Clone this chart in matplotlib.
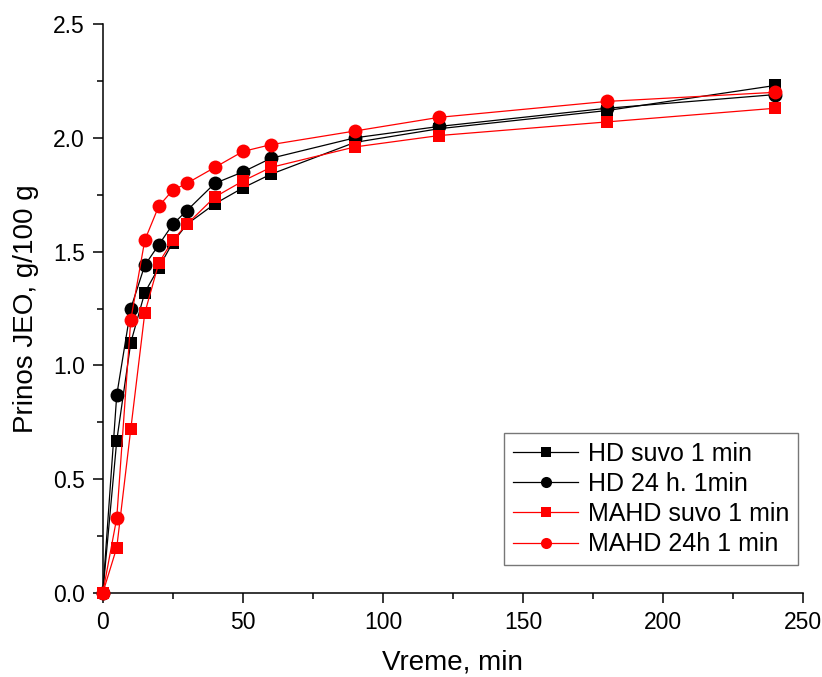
import matplotlib.pyplot as plt
from matplotlib.ticker import MultipleLocator

plt.rcParams['font.family'] = ['Liberation Sans', 'DejaVu Sans']

# extraction time, min
time_min = [0, 5, 10, 15, 20, 25, 30, 40, 50, 60, 90, 120, 180, 240]

# essential oil yield, g/100 g
hd_suvo = [0, 0.67, 1.10, 1.32, 1.43, 1.54, 1.62, 1.71, 1.78, 1.84, 1.98, 2.04, 2.12, 2.23]
hd_24h = [0, 0.87, 1.25, 1.44, 1.53, 1.62, 1.68, 1.80, 1.85, 1.91, 2.00, 2.05, 2.13, 2.19]
mahd_suvo = [0, 0.20, 0.72, 1.23, 1.45, 1.55, 1.62, 1.74, 1.81, 1.87, 1.96, 2.01, 2.07, 2.13]
mahd_24h = [0, 0.33, 1.20, 1.55, 1.70, 1.77, 1.80, 1.87, 1.94, 1.97, 2.03, 2.09, 2.16, 2.20]

labels = ['HD suvo 1 min', 'HD 24 h. 1min', 'MAHD suvo 1 min', 'MAHD 24h 1 min']

fig = plt.figure(figsize=(8.22, 6.77), dpi=100)
ax = fig.add_axes([0.125, 0.124, 0.852, 0.8405])

series = [
    (hd_suvo, 'black', 's', 9),
    (hd_24h, 'black', 'o', 10),
    (mahd_suvo, 'red', 's', 9),
    (mahd_24h, 'red', 'o', 10),
]
for (vals, col, mk, ms), lab in zip(series, labels):
    ax.plot(time_min, vals, color=col, marker=mk, markersize=ms, lw=0.9,
            markeredgewidth=0, label=lab, clip_on=False, zorder=3)

ax.set_xlim(0, 250)
ax.set_ylim(0, 2.5)
ax.xaxis.set_major_locator(MultipleLocator(50))
ax.xaxis.set_minor_locator(MultipleLocator(25))
ax.yaxis.set_major_locator(MultipleLocator(0.5))
ax.yaxis.set_minor_locator(MultipleLocator(0.25))
ax.yaxis.set_major_formatter(plt.FormatStrFormatter('%.1f'))

for side in ['top', 'right']:
    ax.spines[side].set_visible(False)
for side in ['left', 'bottom']:
    ax.spines[side].set_linewidth(1.1)

ax.tick_params(which='major', direction='out', length=7, width=1.1,
               labelsize=16.5, pad=6)
ax.tick_params(which='minor', direction='out', length=4, width=1.1)

ax.set_xlabel('Vreme, min', fontsize=20)
ax.set_ylabel('Prinos JEO, g/100 g', fontsize=20)
ax.xaxis.set_label_coords(0.5, -0.100)
ax.yaxis.set_label_coords(-0.091, 0.5)

leg = ax.legend(loc='lower right', bbox_to_anchor=(0.993, 0.049), fontsize=18,
                frameon=True, fancybox=False, edgecolor='#555555',
                handlelength=2.6, labelspacing=0.25, markerscale=0.8,
                borderpad=0.35, handletextpad=0.4, borderaxespad=0)
leg.get_frame().set_linewidth(1.0)

fig.savefig('out.png', dpi=100)
